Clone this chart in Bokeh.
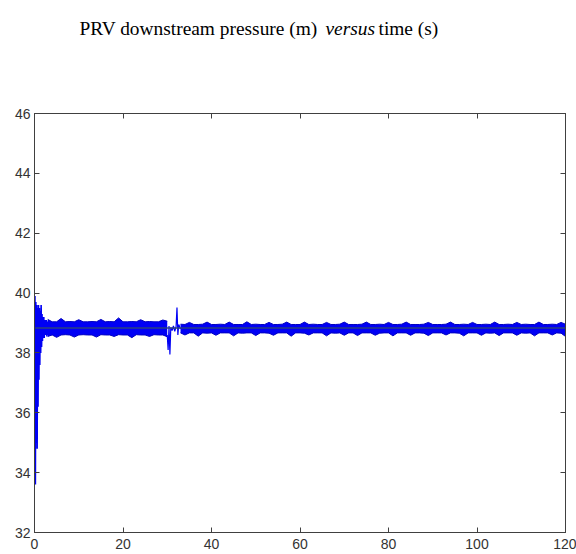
from bokeh.plotting import figure
from bokeh.models import Range1d, LinearAxis, FixedTicker
from bokeh.layouts import column
from bokeh.core.properties import value
from bokeh.embed import file_html
from bokeh.resources import INLINE

# ---------------- data ----------------
x_ticks = [0, 20, 40, 60, 80, 100, 120]
y_ticks = [32, 34, 36, 38, 40, 42, 44, 46]

title_parts = ["PRV downstream pressure (m)", "versus", "time (s)"]
title_styles = ["normal", "italic", "normal"]

# initial transient (s, m)
t_start = [0.0, 0.1, 0.2, 0.3, 0.4, 0.5, 0.6, 0.7, 0.8, 0.9, 1.0, 1.1, 1.2, 1.3, 1.4, 1.5,
           1.6, 1.7, 1.8, 1.9, 2.0, 2.1, 2.2, 2.3, 2.4, 2.5, 2.6, 2.7, 2.8, 2.9, 3.0]
p_start = [38.8, 39.9, 33.6, 39.7, 35.0, 39.6, 34.8, 39.5, 36.2, 39.6, 37.1, 39.5, 37.6, 39.4, 38.0, 39.6,
           38.2, 39.3, 38.4, 39.2, 38.5, 39.2, 38.5, 39.1, 38.6, 39.1, 38.6, 39.1, 38.55, 39.05, 38.6]

# first oscillation band, envelope per second (3 .. 30 s)
t_band1 = list(range(3, 31))
upper1 = [39.12, 39.04, 39.04, 39.15, 39.04, 39.05, 39.04, 39.11, 39.04, 39.04,
          39.05, 39.04, 39.12, 39.04, 39.05, 39.04, 39.17, 39.04, 39.04, 39.05,
          39.04, 39.11, 39.04, 39.05, 39.04, 39.04, 39.10, 39.06]
lower1 = [38.55, 38.60, 38.52, 38.60, 38.61, 38.60, 38.53, 38.60, 38.61, 38.60,
          38.60, 38.53, 38.61, 38.60, 38.60, 38.55, 38.61, 38.60, 38.60, 38.51,
          38.61, 38.60, 38.60, 38.55, 38.61, 38.60, 38.60, 38.54]

# switching transient around 30-33 s
t_switch = [30.0, 30.2, 30.4, 30.6, 30.8, 31.1, 31.4, 31.7, 32.0, 32.2, 32.4, 32.6, 33.0]
p_switch = [38.6, 38.1, 38.9, 37.95, 38.85, 38.75, 38.9, 38.72, 38.88, 39.52, 38.6, 38.95, 38.8]

# second oscillation band, envelope per second (33 .. 120 s)
t_band2 = list(range(33, 121))
upper2 = [38.96, 38.95, 39.02, 38.95, 38.95, 38.96, 39.03, 38.95, 38.95, 38.96,
          38.95, 39.03, 38.95, 38.95, 38.95, 39.04, 38.95, 38.96, 38.95, 38.95,
          39.02, 38.95, 38.95, 38.96, 39.03, 38.95, 38.95, 38.95, 39.03, 38.95,
          38.96, 38.95, 38.95, 39.02, 38.95, 38.95, 38.96, 39.03, 38.95, 38.95,
          38.95, 38.96, 39.03, 38.95, 38.95, 38.96, 38.95, 39.02, 38.95, 38.95,
          38.96, 39.03, 38.95, 38.95, 38.95, 38.96, 39.02, 38.95, 38.95, 38.95,
          38.96, 39.03, 38.95, 38.95, 38.96, 38.95, 39.02, 38.95, 38.95, 38.96,
          38.95, 39.03, 38.95, 38.95, 38.96, 38.95, 39.02, 38.95, 38.96, 38.95,
          38.95, 39.03, 38.95, 38.95, 38.96, 38.95, 39.02, 38.96]
lower2 = [38.67, 38.60, 38.67, 38.67, 38.56, 38.67, 38.66, 38.67, 38.59, 38.67,
          38.67, 38.67, 38.57, 38.67, 38.66, 38.67, 38.67, 38.58, 38.67, 38.67,
          38.66, 38.59, 38.67, 38.67, 38.67, 38.56, 38.67, 38.67, 38.66, 38.60,
          38.67, 38.67, 38.67, 38.57, 38.67, 38.66, 38.67, 38.59, 38.67, 38.67,
          38.58, 38.67, 38.67, 38.67, 38.59, 38.66, 38.67, 38.67, 38.57, 38.67,
          38.67, 38.67, 38.59, 38.67, 38.67, 38.66, 38.58, 38.67, 38.67, 38.67,
          38.60, 38.67, 38.67, 38.66, 38.57, 38.67, 38.67, 38.67, 38.59, 38.67,
          38.66, 38.67, 38.58, 38.67, 38.67, 38.67, 38.59, 38.67, 38.66, 38.67,
          38.57, 38.67, 38.67, 38.67, 38.60, 38.67, 38.66, 38.55]

# mean / setpoint line
t_mean = [0.2, 120]
p_mean = [38.83, 38.83]

# ---------------- title strip ----------------
W = 576
TH = 90
FL, FR = 34, 565          # frame left / right in page pixels
tf = figure(width=W, height=TH, output_backend="svg", toolbar_location=None,
            x_range=Range1d(FL, FR), y_range=Range1d(TH, 0),
            x_axis_location=None, y_axis_location=None,
            min_border_left=FL, min_border_right=W - FR, min_border_top=0,
            min_border_bottom=0, outline_line_color=None)
tf.grid.visible = False
title_x = [79, 325, 378]
for txt, st, xx in zip(title_parts, title_styles, title_x):
    tf.text(x=[xx], y=[28.3], text=[txt], text_font=value("Liberation Serif"),
            text_font_size=value("19.4px"), text_font_style=st, text_color="black",
            text_baseline="alphabetic", text_align="left")

# ---------------- main figure ----------------
p = figure(width=W, height=554 - TH, output_backend="svg", toolbar_location=None,
           x_range=Range1d(0, 120), y_range=Range1d(32, 46),
           x_axis_location=None, y_axis_location=None,
           min_border_left=FL, min_border_right=W - FR, min_border_top=113 - TH,
           min_border_bottom=22)
p.grid.visible = False
p.background_fill_color = "white"
p.border_fill_color = "white"
p.outline_line_color = "#404040"
p.outline_line_width = 1

AX = "#404040"


def make_axis(ticks, labels, standoff):
    ax = LinearAxis(ticker=FixedTicker(ticks=ticks))
    ax.major_tick_in = 5
    ax.major_tick_out = 0
    ax.minor_tick_line_color = None
    ax.axis_line_color = AX
    ax.major_tick_line_color = AX
    ax.major_label_standoff = standoff
    ax.major_label_text_font = "Liberation Sans"
    ax.major_label_text_font_size = "14px"
    ax.major_label_text_color = "#333333"
    if not labels:
        ax.major_label_overrides = {t: "" for t in ticks}
        ax.major_label_text_font_size = "0px"
    return ax


p.add_layout(make_axis(x_ticks, True, 6), "below")
p.add_layout(make_axis(y_ticks, True, 4), "left")
p.add_layout(make_axis(x_ticks, False, 0), "above")
p.add_layout(make_axis(y_ticks, False, 0), "right")

BLUE = "#0000f5"
EDGE = "#0000c0"

p.varea(x=t_band1, y1=lower1, y2=upper1, fill_color=BLUE)
p.line(t_band1, upper1, line_color=EDGE, line_width=1)
p.line(t_band1, lower1, line_color=EDGE, line_width=1)

p.varea(x=t_band2, y1=lower2, y2=upper2, fill_color=BLUE)
p.line(t_band2, upper2, line_color=EDGE, line_width=1)
p.line(t_band2, lower2, line_color=EDGE, line_width=1)

p.line(t_start, p_start, line_color=BLUE, line_width=1.6)
p.line(t_switch, p_switch, line_color=BLUE, line_width=1.2)

p.line(t_mean, p_mean, line_color="#2a4080", line_width=1.5)

layout = column(tf, p, spacing=0)
open("out.html", "w").write(file_html(layout, INLINE))
